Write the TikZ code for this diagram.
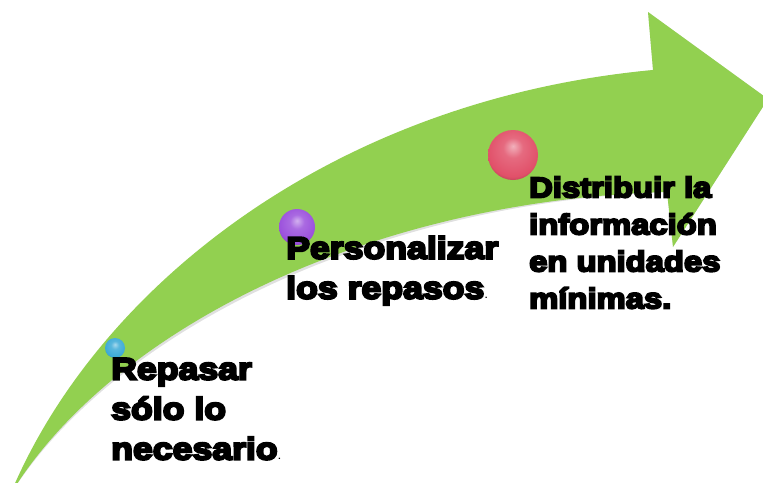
\documentclass[tikz,border=0pt]{standalone}
\usepackage{fontspec}
\newfontfamily\blk{Liberation Sans}[FakeStretch=1.15,BoldFeatures={FakeBold=7}]
\definecolor{arrowgreen}{RGB}{146,208,80}
\definecolor{sblue}{RGB}{60,170,215}
\definecolor{spurple}{RGB}{155,80,220}
\definecolor{sred}{RGB}{225,80,105}
\pgfdeclareradialshading{sphblue}{\pgfpoint{0bp}{9bp}}{color(0bp)=(sblue!45!white); color(10bp)=(sblue!85!white); color(26bp)=(sblue); color(33bp)=(sblue!70!black); color(50bp)=(sblue!70!black)}
\pgfdeclareradialshading{sphpurple}{\pgfpoint{0bp}{9bp}}{color(0bp)=(spurple!45!white); color(10bp)=(spurple!85!white); color(26bp)=(spurple); color(33bp)=(spurple!70!black); color(50bp)=(spurple!70!black)}
\pgfdeclareradialshading{sphred}{\pgfpoint{0bp}{9bp}}{color(0bp)=(sred!45!white); color(10bp)=(sred!85!white); color(26bp)=(sred); color(33bp)=(sred!70!black); color(50bp)=(sred!70!black)}
\begin{document}
\begin{tikzpicture}[x=1pt,y=-1pt,
  txt/.style={anchor=north west, inner sep=0pt, align=left, text=black,
    font=\blk\bfseries\fontsize{31}{40}\selectfont},
  txtb/.style={txt, font=\blk\bfseries\fontsize{28.5}{37}\selectfont},
  sphere/.style={circle, inner sep=0pt},
  arrowbody/.style={fill=arrowgreen}]
\useasboundingbox (0,0) rectangle (763,482);
\clip (0,0) rectangle (763,482);
\coordinate (tail) at (10,495);
\coordinate (un) at (653,70);
\coordinate (tb) at (648,12);
\coordinate (tip) at (768,99);
\coordinate (bb) at (673,247);
\coordinate (ln) at (667,192);
% shadow
\fill[black, opacity=0.12, shift={(2,3)}]
  (tail) .. controls (95,290) and (330,100) .. (un) -- (tb) -- (tip) -- (bb) -- (ln)
  .. controls (370,200) and (110,330) .. (tail) -- cycle;
\fill[arrowbody]
  (tail) .. controls (95,290) and (330,100) .. (un) -- (tb) -- (tip) -- (bb) -- (ln)
  .. controls (370,200) and (110,330) .. (tail) -- cycle;
% spheres
\node[sphere, minimum size=20pt, shading=sphblue] (s1) at (115,348) {};
\node[sphere, minimum size=36pt, shading=sphpurple] (s2) at (297,227) {};
\node[sphere, minimum size=50pt, shading=sphred] (s3) at (513,155) {};
% texts
\node[txt] (t1) at (111,358) {Repasar\\sólo lo\\necesario{\fontsize{12}{12}\selectfont\mdseries.}};
\node[txt] (t2) at (286,236) {Personalizar\\los repasos{\fontsize{12}{12}\selectfont\mdseries.}};
\node[txtb] (t3) at (529,176.5) {Distribuir la\\información\\en unidades\\mínimas.};
\end{tikzpicture}
\end{document}
